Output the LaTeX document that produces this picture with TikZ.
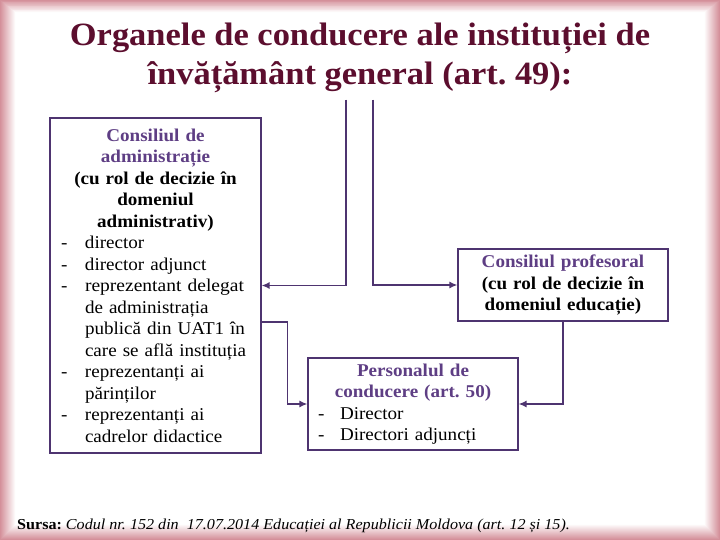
\documentclass[tikz,border=0pt]{standalone}
\usepackage{fontspec}
\usepackage{graphicx}
\setmainfont[FakeStretch=1.06]{Liberation Serif}
\usetikzlibrary{arrows.meta}
\frenchspacing
\definecolor{titlec}{HTML}{5C0E2E}
\definecolor{headc}{HTML}{5E3E84}
\definecolor{linec}{HTML}{4E3470}
\definecolor{framec}{HTML}{D4909A}
\newcommand\myitem[2][24pt]{\makebox[\linewidth][l]{\makebox[#1][l]{-}#2}}
\newcommand\mycont[2][24pt]{\makebox[\linewidth][l]{\hspace{#1}#2}}
\tikzset{
  box/.style={draw=linec, line width=1.1pt, inner sep=0pt, align=center, fill=white},
  conn/.style={draw=linec, line width=1.8pt, -{Latex[length=8pt,width=7pt]}},
  boxtext/.style={font=\fontsize{18}{21.5}\selectfont}
}
\begin{document}
\frenchspacing
\begin{tikzpicture}[x=1pt,y=-1pt]
\useasboundingbox (0,0) rectangle (720,540);
% frame
\fill[framec] (0,0) rectangle (720,540);
\foreach \i in {0,...,15}{
  \pgfmathsetmacro\mix{100-\i*6.6}
  \fill[framec!\mix!white] (\i,\i*0.8) rectangle (720-\i,540-\i);
}
\fill[white] (16,13) rectangle (704,524);
% title
\node[font=\fontsize{32.5}{39}\selectfont\bfseries, text=titlec, align=center, anchor=center] (title) at (360,58)
  {Organele de conducere ale instituției de\\ învățământ general (art. 49):};
% left box
\node[box, boxtext, minimum width=211pt, minimum height=335pt, text width=189pt] (L) at (155.5,285.5)
 {{\color{headc}\bfseries Consiliul de\\ administrație}\\
  {\bfseries (cu rol de decizie în\\ domeniul\\ administrativ)}\\
  \myitem{director}\\
  \myitem{director adjunct}\\
  \myitem{\resizebox{159pt}{\height}{reprezentant delegat}}\\
  \mycont{de administrația}\\
  \mycont{publică din UAT1 în}\\
  \mycont{care se află instituția}\\
  \myitem{reprezentanți ai}\\
  \mycont{părinților}\\
  \myitem{reprezentanți ai}\\
  \mycont{cadrelor didactice}};
% consiliul profesoral
\node[box, boxtext, minimum width=210pt, minimum height=72pt, text width=200pt] (P) at (563,285)
 {{\color{headc}\bfseries Consiliul profesoral}\\
  {\bfseries (cu rol de decizie în\\ domeniul educație)}};
% personalul
\node[box, boxtext, minimum width=210pt, minimum height=92pt, text width=190pt] (D) at (413,404)
 {{\color{headc}\bfseries Personalul de\\ conducere (art. 50)}\\
  \myitem[22pt]{Director}\\
  \myitem[22pt]{Directori adjuncți}};
% connectors
\coordinate (t1) at (346,100);
\coordinate (t2) at (373,100);
\draw[linec, line width=1pt] (t1) -- ++(0,185.5);
\draw[linec, line width=1pt] (t2) -- ++(0,185);
\draw[conn] (t1) |- (L);
\draw[conn] (t2) |- (P);
\draw[conn] ([yshift=-36.5pt]L.east) -- ++(26,0) |- (D);
\draw[conn] (P.south) |- (D);
% source
\node[anchor=base west, font=\fontsize{15.2}{17}\selectfont, inner sep=0pt] (src) at (17,529)
 {\textbf{Sursa:} \textit{Codul nr. 152 din~ 17.07.2014 Educației al Republicii Moldova (art. 12 și 15).}};
\end{tikzpicture}
\end{document}
